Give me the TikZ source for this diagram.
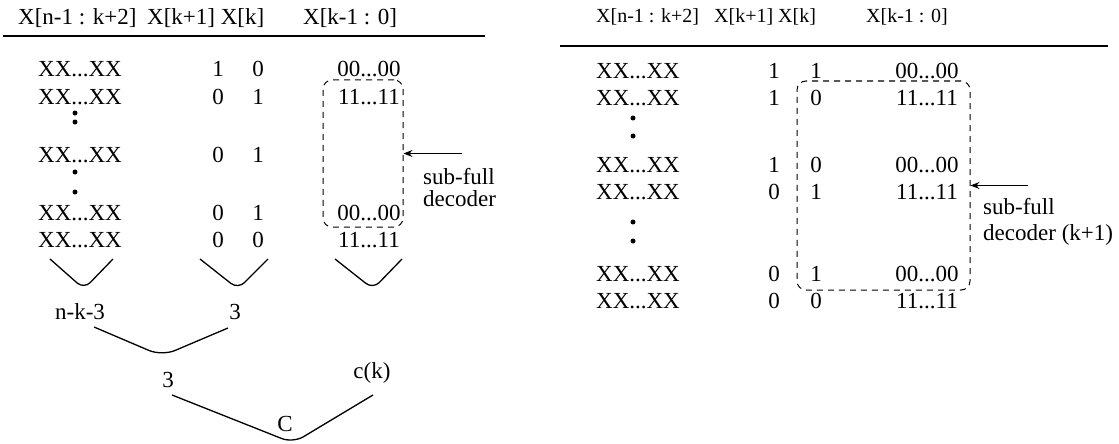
\documentclass[tikz,border=0pt]{standalone}
\usepackage{fontspec}
\setmainfont{Liberation Serif}
\usetikzlibrary{arrows.meta}
\begin{document}
\begin{tikzpicture}[x=1pt,y=-1pt,
  cell/.style={anchor=base,inner sep=0pt,font=\fontsize{23}{23}\selectfont},
  headL/.style={anchor=base west,inner sep=0pt,font=\fontsize{23}{23}\selectfont},
  headR/.style={anchor=base west,inner sep=0pt,font=\fontsize{20}{20}\selectfont},
  note/.style={anchor=base west,inner sep=0pt,font=\fontsize{23}{23}\selectfont},
  brace/.style={line width=1.3pt,rounded corners=9pt},
  group/.style={draw,dash pattern=on 6pt off 5pt,rounded corners=9pt,line width=1pt,inner sep=0pt},
  vdot/.style={circle,fill,inner sep=0pt,minimum size=5pt},
  rule/.style={line width=1.4pt},
  pointer/.style={line width=1.1pt,-{Stealth[length=9pt,width=7pt,inset=3pt]}}]
\useasboundingbox (0,0) rectangle (1119,444);

% ---------- left table ----------
\node[headL] (hL1) at (18,24.5) {X[n-1 : k+2]};
\node[headL] (hL2) at (147,24.5) {X[k+1] X[k]};
\node[headL] (hL3) at (303,24.5) {X[k-1 : 0]};
\coordinate (rL1) at (3,36);
\coordinate (rL2) at (485,36);
\draw[rule] (rL1) -- (rL2);

\node[cell] (l1a) at (80,77) {XX...XX};
\node[cell] (l1b) at (218,77) {1};
\node[cell] (l1c) at (258,77) {0};
\node[cell] (l1d) at (369,77) {00...00};

\node[cell] (l2a) at (80,104) {XX...XX};
\node[cell] (l2b) at (218,104) {0};
\node[cell] (l2c) at (258,104) {1};
\node[cell] (l2d) at (369,104) {11...11};

\node[vdot] (ld1) at (75,113) {};
\node[vdot] (ld2) at (75,122) {};

\node[cell] (l3a) at (80,162) {XX...XX};
\node[cell] (l3b) at (218,162) {0};
\node[cell] (l3c) at (258,162) {1};

\node[vdot] (ld3) at (75,172) {};
\node[vdot] (ld4) at (75,192) {};

\node[cell] (l4a) at (80,220) {XX...XX};
\node[cell] (l4b) at (218,220) {0};
\node[cell] (l4c) at (258,220) {1};
\node[cell] (l4d) at (369,220) {00...00};

\node[cell] (l5a) at (80,247) {XX...XX};
\node[cell] (l5b) at (218,247) {0};
\node[cell] (l5c) at (258,247) {0};
\node[cell] (l5d) at (369,247) {11...11};

% sub-full decoder group
\node[group,minimum width=80pt,minimum height=147pt] (boxL) at (363,153.5) {};
\coordinate (arrL) at (462,153.5);
\draw[pointer] (arrL) -- (boxL.east);
\node[note] (subL) at (423,184) {sub-full};
\node[note] (decL) at (423,206) {decoder};

% counting braces
\coordinate (b1s) at (50,259);  \coordinate (b1m) at (84,289);  \coordinate (b1e) at (113,259);
\coordinate (b2s) at (200,259); \coordinate (b2m) at (238,289); \coordinate (b2e) at (268,259);
\coordinate (b3s) at (335,259); \coordinate (b3m) at (373,289); \coordinate (b3e) at (402,259);
\draw[brace] (b1s) -- (b1m) -- (b1e);
\draw[brace] (b2s) -- (b2m) -- (b2e);
\draw[brace] (b3s) -- (b3m) -- (b3e);

\node[cell] (cnt1) at (80,319) {n-k-3};
\node[cell] (cnt2) at (235,319) {3};

\coordinate (b4s) at (94,327); \coordinate (b4m) at (162,356); \coordinate (b4e) at (228,328);
\draw[brace,rounded corners=14pt] (b4s) -- (b4m) -- (b4e);

\node[cell] (cnt3) at (168,387) {3};
\node[cell] (cntk) at (372,378) {c(k)};

\coordinate (b5s) at (172,395); \coordinate (b5m) at (293,443); \coordinate (b5e) at (373,395);
\draw[brace,rounded corners=12pt] (b5s) -- (b5m) -- (b5e);
\node[cell] (cntC) at (285,431) {C};

% ---------- right table ----------
\node[headR] (hR1) at (596,23) {X[n-1 : k+2]};
\node[headR] (hR2) at (714,23) {X[k+1] X[k]};
\node[headR] (hR3) at (866,23) {X[k-1 : 0]};
\coordinate (rR1) at (560,46);
\coordinate (rR2) at (1108,46);
\draw[rule] (rR1) -- (rR2);

\node[cell] (r1a) at (638,78) {XX...XX};
\node[cell] (r1b) at (774,78) {1};
\node[cell] (r1c) at (816,78) {1};
\node[cell] (r1d) at (927,78) {00...00};

\node[cell] (r2a) at (638,105) {XX...XX};
\node[cell] (r2b) at (774,105) {1};
\node[cell] (r2c) at (816,105) {0};
\node[cell] (r2d) at (927,105) {11...11};

\node[vdot] (rd1) at (633,118) {};
\node[vdot] (rd2) at (633,136) {};

\node[cell] (r3a) at (638,172) {XX...XX};
\node[cell] (r3b) at (774,172) {1};
\node[cell] (r3c) at (816,172) {0};
\node[cell] (r3d) at (927,172) {00...00};

\node[cell] (r4a) at (638,199) {XX...XX};
\node[cell] (r4b) at (774,199) {0};
\node[cell] (r4c) at (816,199) {1};
\node[cell] (r4d) at (927,199) {11...11};

\node[vdot] (rd3) at (633,222) {};
\node[vdot] (rd4) at (633,241) {};

\node[cell] (r5a) at (638,281) {XX...XX};
\node[cell] (r5b) at (774,281) {0};
\node[cell] (r5c) at (816,281) {1};
\node[cell] (r5d) at (927,281) {00...00};

\node[cell] (r6a) at (638,308) {XX...XX};
\node[cell] (r6b) at (774,308) {0};
\node[cell] (r6c) at (816,308) {0};
\node[cell] (r6d) at (927,308) {11...11};

% sub-full decoder (k+1) group
\node[group,minimum width=173pt,minimum height=209pt] (boxR) at (883.5,185.5) {};
\coordinate (arrR) at (1028,185.5);
\draw[pointer] (arrR) -- (boxR.east);
\node[note] (subR) at (983,214) {sub-full};
\node[note] (decR) at (983,240) {decoder (k+1)};
\end{tikzpicture}
\end{document}
